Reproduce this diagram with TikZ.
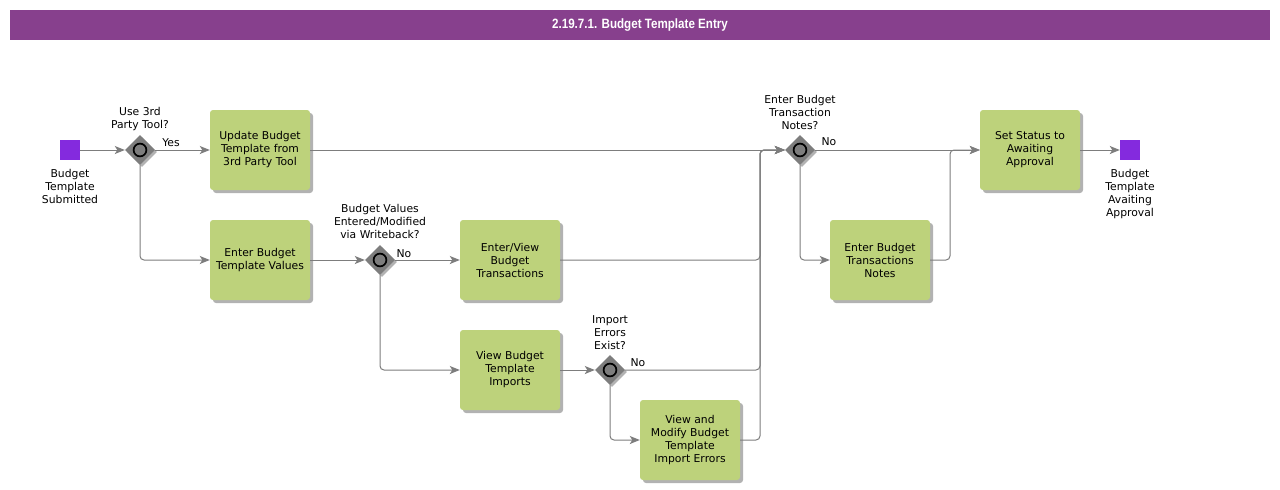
\documentclass[tikz,border=0pt]{standalone}
\usepackage{fontspec}
\setmainfont{DejaVu Sans}
\newfontfamily\titlefont{Liberation Sans}
\usetikzlibrary{arrows.meta,shapes.geometric,shadows}
\definecolor{taskgreen}{RGB}{189,210,123}
\definecolor{titlepurple}{RGB}{135,64,141}
\definecolor{evpurple}{RGB}{132,42,222}
\definecolor{gwgray}{RGB}{125,125,125}
\definecolor{linegray}{RGB}{125,125,125}
\begin{document}
\begin{tikzpicture}[x=1pt,y=-1pt,
  txt/.style={font=\fontsize{10.8}{13}\selectfont, align=center, inner sep=0pt},
  task/.style={txt, rectangle, rounded corners=3pt, fill=taskgreen, minimum width=100pt, minimum height=80pt,
    drop shadow={shadow xshift=3pt, shadow yshift=-3pt, fill=black, opacity=0.3}},
  gw/.style={diamond, fill=gwgray, minimum width=30pt, minimum height=30pt, inner sep=0pt,
    drop shadow={shadow xshift=2pt, shadow yshift=-2pt, fill=black, opacity=0.3},
    path picture={\draw[black, line width=1.7pt, fill=gwgray] (path picture bounding box.center) circle (6.4pt);}},
  ev/.style={rectangle, fill=evpurple, minimum width=20pt, minimum height=20pt, inner sep=0pt},
  lbl/.style={txt},
  flow/.style={draw=linegray, line width=1pt, rounded corners=4pt, -{Stealth[length=10pt,width=8pt,inset=2.5pt,fill=linegray]}}
]
\useasboundingbox (0,0) rectangle (1280,490);
\fill[white] (0,0) rectangle (1280,490);
% title
\node[fill=titlepurple, minimum width=1260pt, minimum height=30pt, inner sep=0pt, text=white,
  font=\titlefont\bfseries\fontsize{13.5}{15}\selectfont] (title) at (640,25) {\scalebox{0.86}[1]{2.19.7.1. Budget Template Entry}};
% events
\node[ev] (start) at (70,150) {};
\node[lbl] (startlbl) at (70,186) {Budget\\Template\\Submitted};
\node[ev] (end) at (1130,150) {};
\node[lbl] (endlbl) at (1130,194) {Budget\\Template\\Avaiting\\Approval};
% gateways
\node[gw] (gw1) at (140,150) {};
\node[lbl] (gw1lbl) at (140,119) {Use 3rd\\Party Tool?};
\node[gw] (gw2) at (380,260) {};
\node[lbl] (gw2lbl) at (380,221) {Budget Values\\Entered/Modified\\via Writeback?};
\node[gw] (gw3) at (610,370) {};
\node[lbl] (gw3lbl) at (610,333) {Import\\Errors\\Exist?};
\node[gw] (gw4) at (800,150) {};
\node[lbl] (gw4lbl) at (800,112) {Enter Budget\\Transaction\\Notes?};
% tasks
\node[task] (t1) at (260,150) {Update Budget\\Template from\\3rd Party Tool};
\node[task] (t2) at (260,260) {Enter Budget\\Template Values};
\node[task] (t3) at (510,260) {Enter/View\\Budget\\Transactions};
\node[task] (t4) at (510,370) {View Budget\\Template\\Imports};
\node[task] (t5) at (690,440) {View and\\Modify Budget\\Template\\Import Errors};
\node[task] (t6) at (880,260) {Enter Budget\\Transactions\\Notes};
\node[task] (t7) at (1030,150) {Set Status to\\Awaiting\\Approval};
% merge points
\coordinate (m1) at (760,150);
\coordinate (m2) at (950,150);
% connectors
\draw[flow] (start) -- (gw1);
\draw[flow] (gw1) -- (t1);
\node[lbl] (yes1) at (171,143) {Yes};
\draw[flow] (gw1.south) |- (t2);
\draw[flow] (t1) -- (gw4);
\draw[flow] (t2) -- (gw2);
\draw[flow] (gw2) -- (t3);
\node[lbl] (no2) at (404,254) {No};
\draw[flow] (gw2.south) |- (t4);
\draw[flow] (t4) -- (gw3);
\draw[flow] (t3) -| (m1) -- (gw4);
\draw[flow] (gw3) -| (m1) -- (gw4);
\node[lbl] (no3) at (638,363) {No};
\draw[flow] (gw3.south) |- (t5);
\draw[flow] (t5) -| (m1) -- (gw4);
\draw[flow] (gw4) -- (t7);
\node[lbl] (no4) at (829,142) {No};
\draw[flow] (gw4.south) |- (t6);
\draw[flow] (t6) -| (m2) -- (t7);
\draw[flow] (t7) -- (end);
\end{tikzpicture}
\end{document}
